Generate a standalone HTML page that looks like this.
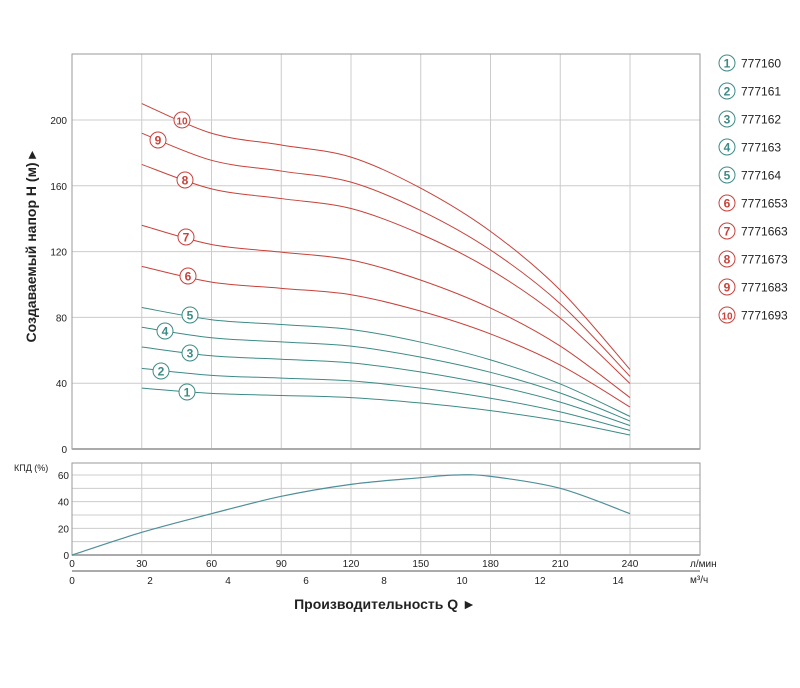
<!DOCTYPE html>
<html><head><meta charset="utf-8"><style>
body{margin:0;background:#fff}
svg{display:block;font-family:"Liberation Sans",sans-serif}
</style></head><body>
<svg id="s" width="800" height="688" xmlns="http://www.w3.org/2000/svg">
<rect width="800" height="688" fill="#fff"/>
<g id="g"></g>
<text transform="translate(36,247) rotate(-90)" text-anchor="middle" font-size="14" font-weight="bold" fill="#222">Создаваемый напор Н (м) ▸</text>
<text x="385" y="609" text-anchor="middle" font-size="14" font-weight="bold" fill="#222">Производительность Q ►</text>
<text x="14" y="471" font-size="9" fill="#222">КПД (%)</text>
<text x="690" y="567" font-size="10" fill="#222">л/мин</text>
<text x="690" y="583" font-size="10" fill="#222">м³/ч</text>
</svg>
<script>
const NS="http://www.w3.org/2000/svg",g=document.getElementById('g');
function el(t,a,txt){const e=document.createElementNS(NS,t);for(const k in a)e.setAttribute(k,a[k]);if(txt!==undefined)e.textContent=txt;g.appendChild(e);return e;}
const X=q=>72+q*2.325, Y=v=>449-v*1.645, YE=e=>555-e*1.333;
for(let v=40;v<=200;v+=40)el('line',{x1:72,x2:700,y1:Y(v),y2:Y(v),stroke:'#ccc'});
for(let q=30;q<=240;q+=30){el('line',{x1:X(q),x2:X(q),y1:54,y2:449,stroke:'#ccc'});}
el('rect',{x:72,y:54,width:628,height:395,fill:'none',stroke:'#999'});
el('line',{x1:72,x2:700,y1:449,y2:449,stroke:'#aaa','stroke-width':2});
for(let v=0;v<=200;v+=40)el('text',{x:67,y:Y(v)+4,'text-anchor':'end','font-size':10,fill:'#222'},v);
for(let e=10;e<=60;e+=10)el('line',{x1:72,x2:700,y1:YE(e),y2:YE(e),stroke:'#ccc'});
for(let q=30;q<=240;q+=30)el('line',{x1:X(q),x2:X(q),y1:463,y2:555,stroke:'#ccc'});
el('rect',{x:72,y:463,width:628,height:92,fill:'none',stroke:'#999'});
el('line',{x1:72,x2:700,y1:555,y2:555,stroke:'#aaa','stroke-width':2});
for(let e=0;e<=60;e+=20)el('text',{x:69,y:YE(e)+4,'text-anchor':'end','font-size':10,fill:'#222'},e);
for(let q=0;q<=240;q+=30)el('text',{x:X(q),y:567,'text-anchor':'middle','font-size':10,fill:'#222'},q);
el('line',{x1:72,x2:700,y1:571,y2:571,stroke:'#aaa','stroke-width':2});
for(let m=0;m<=14;m+=2)el('text',{x:72+m*39,y:584,'text-anchor':'middle','font-size':10,fill:'#222'},m);
function path(pts){let d='M'+pts[0][0]+','+pts[0][1];for(let i=0;i<pts.length-1;i++){const p0=pts[i-1]||pts[i],p1=pts[i],p2=pts[i+1],p3=pts[i+2]||p2;
d+=' C'+(p1[0]+(p2[0]-p0[0])/6)+','+(p1[1]+(p2[1]-p0[1])/6)+' '+(p2[0]-(p3[0]-p1[0])/6)+','+(p2[1]-(p3[1]-p1[1])/6)+' '+p2[0]+','+p2[1];}return d;}
const qs=[30,60,90,120,150,180,210,240],f=[1,0.914,0.88,0.845,0.755,0.63,0.46,0.23];
const H=[37,49,62,74,86,111,136,173,192,210];
H.forEach((h,i)=>{const c=i<5?'#3d8a86':'#c8413a';el('path',{d:path(qs.map((q,j)=>[X(q),Y(h*f[j])])),fill:'none',stroke:c,'stroke-width':1});});
const eq=[[0,0],[30,17],[60,31],[90,44],[120,53],[150,58],[165,60],[180,59],[210,50],[240,31]];
el('path',{d:path(eq.map(p=>[X(p[0]),YE(p[1])])),fill:'none',stroke:'#4e8f99','stroke-width':1.2});
const lab=[[187,392],[161,371],[190,353],[165,331],[190,315],[188,276],[186,237],[185,180],[158,140],[182,120]];
lab.forEach((p,i)=>{const c=i<5?'#3d8a86':'#c8413a';el('circle',{cx:p[0],cy:p[1],r:8,fill:'#fff',stroke:c});el('text',{x:p[0],y:p[1]+4.5,'text-anchor':'middle','font-size':i==9?10:12,'font-weight':'bold',fill:c},i+1);});
const names=['777160','777161','777162','777163','777164','7771653','7771663','7771673','7771683','7771693'];
names.forEach((n,i)=>{const y=63+i*28,c=i<5?'#3d8a86':'#c8413a';el('circle',{cx:727,cy:y,r:8,fill:'#fff',stroke:c});el('text',{x:727,y:y+4.5,'text-anchor':'middle','font-size':i==9?10:12,'font-weight':'bold',fill:c},i+1);el('text',{x:741,y:y+4.5,'font-size':12,fill:'#222'},n);});
</script>
</body></html>
